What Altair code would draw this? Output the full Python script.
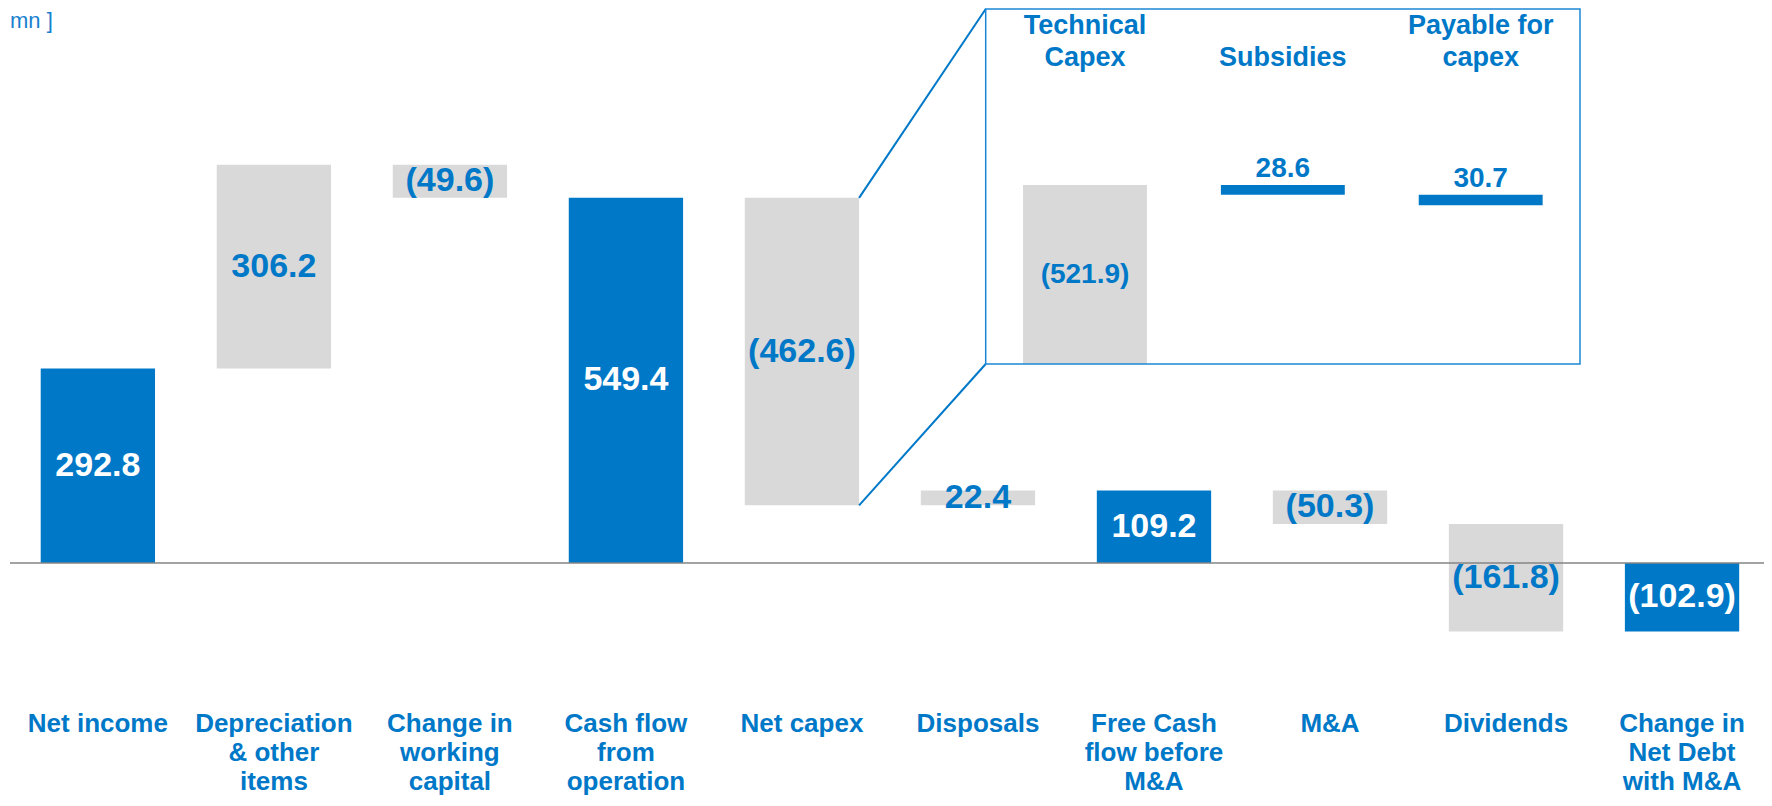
import altair as alt
import pandas as pd

# ---------------- data ----------------
categories = [
    "Net income",
    "Depreciation\n& other\nitems",
    "Change in\nworking\ncapital",
    "Cash flow\nfrom\noperation",
    "Net capex",
    "Disposals",
    "Free Cash\nflow before\nM&A",
    "M&A",
    "Dividends",
    "Change in\nNet Debt\nwith M&A",
]
values = [292.8, 306.2, -49.6, 549.4, -462.6, 22.4, 109.2, -50.3, -161.8, -102.9]
kinds = ["total", "delta", "delta", "total", "delta", "delta", "total", "delta", "delta", "total"]

inset_categories = ["Technical\nCapex", "Subsidies", "Payable for\ncapex"]
inset_values = [-521.9, 28.6, 30.7]
inset_kinds = ["gross", "offset", "offset"]

unit_text = "mn ]"


def fmt(v):
    return f"({abs(v):.1f})" if v < 0 else f"{v:.1f}"


rows = []
running = 0.0
for c, v, k in zip(categories, values, kinds):
    if k == "total":
        s, e = 0.0, v
    else:
        s, e = running, running + v
    running = e
    rows.append(dict(cat=c, lo=min(s, e), hi=max(s, e), mid=(s + e) / 2, kind=k, label=fmt(v)))
main_df = pd.DataFrame(rows)

irows = []
level = 0.0
for i, (c, v, k) in enumerate(zip(inset_categories, inset_values, inset_kinds)):
    if i == 0:
        s, e = 0.0, -v
    else:
        s, e = level, level - v
    level = e
    irows.append(dict(cat=c, lo=min(s, e), hi=max(s, e), mid=(s + e) / 2, kind=k, label=fmt(v)))
inset_df = pd.DataFrame(irows)

# ---------------- style ----------------
BLUE = "#0078C8"
GRAY = "#D9D9D9"
LINE_GRAY = "#858585"
BOX_BLUE = "#1C86D6"
FONT = "Liberation Sans"
W, H = 1756, 790

BOX_X0, BOX_X1, BOX_Y0, BOX_Y1 = 977.7, 1572.0, 1.0, 356.0

main_x_scale = alt.Scale(paddingInner=0.3506, paddingOuter=0.1634, align=0.5687, round=False)
main_x_axis = alt.Axis(
    orient="bottom", title=None, labelAngle=0,
    labelExpr="split(datum.label, '\\n')",
    labelFont=FONT, labelFontSize=26, labelFontWeight="bold", labelColor=BLUE,
    labelLineHeight=29, labelBaseline="top", labelPadding=0,
    ticks=False, tickSize=0, domain=False, grid=False, offset=-88,
    labelLimit=0, labelOverlap=False, labelFlush=False,
)
main_y_scale = alt.Scale(domain=[-353.5, 835], nice=False, zero=False)


def xmain(**kw):
    return alt.X("cat:N", sort=categories, scale=main_x_scale, axis=main_x_axis, **kw)


def ymain(field):
    return alt.Y(field, scale=main_y_scale, axis=None)


base = alt.Chart(main_df)

bars = base.mark_bar().encode(
    x=xmain(),
    y=ymain("lo:Q"),
    y2="hi:Q",
    color=alt.Color("kind:N", scale=alt.Scale(domain=["total", "delta"], range=[BLUE, GRAY]), legend=None),
)

zero_rule = base.transform_filter(alt.datum.cat == categories[0]).mark_rule(
    color=LINE_GRAY, strokeWidth=1.5
).encode(
    y=alt.YDatum(0, scale=main_y_scale, axis=None, type="quantitative"),
    x=alt.value(2),
    x2=alt.value(W),
)

labels = base.transform_calculate(
    tcolor="datum.kind == 'total' ? '#FFFFFF' : '" + BLUE + "'"
).mark_text(font=FONT, fontSize=34, fontWeight="bold", baseline="middle").encode(
    x=xmain(),
    y=ymain("mid:Q"),
    text="label:N",
    color=alt.Color("tcolor:N", scale=None),
)

capex = base.transform_filter(alt.datum.cat == "Net capex")
conn_top = capex.mark_rule(color=BLUE, strokeWidth=2).encode(
    x=xmain(bandPosition=1), y=ymain("hi:Q"),
    x2=alt.value(BOX_X0), y2=alt.value(BOX_Y0),
)
conn_bot = capex.mark_rule(color=BLUE, strokeWidth=2).encode(
    x=xmain(bandPosition=1), y=ymain("lo:Q"),
    x2=alt.value(BOX_X0), y2=alt.value(BOX_Y1),
)

main = alt.layer(bars, zero_rule, labels, conn_top, conn_bot)

# ---------------- inset ----------------
inset_x_scale = alt.Scale(range=[BOX_X0, BOX_X1], paddingInner=0.3738, paddingOuter=0.1888, align=0.5, round=False)
inset_x_axis = alt.Axis(
    orient="top", title=None, labelAngle=0,
    labelExpr="length(split(datum.label, '\\n')) > 1 ? split(datum.label, '\\n') : [' ', datum.label]",
    labelFont=FONT, labelFontSize=27, labelFontWeight="bold", labelColor=BLUE,
    labelLineHeight=32, labelBaseline="bottom", labelPadding=0,
    ticks=False, tickSize=0, domain=False, grid=False, offset=-31,
    labelLimit=0, labelOverlap=False, labelFlush=False,
)
inset_y_scale = alt.Scale(domain=[0, 521.9], range=[BOX_Y1, 177], nice=False, zero=False)


def xin(**kw):
    return alt.X("cat:N", sort=inset_categories, scale=inset_x_scale, axis=inset_x_axis, **kw)


def yin(field):
    return alt.Y(field, scale=inset_y_scale, axis=None)


ibase = alt.Chart(inset_df)
ibars = ibase.mark_bar().encode(
    x=xin(), y=yin("lo:Q"), y2="hi:Q",
    color=alt.Color("kind:N", scale=alt.Scale(domain=["gross", "offset"], range=[GRAY, BLUE]), legend=None),
)
ilab_mid = ibase.transform_filter(alt.datum.kind == "gross").mark_text(
    font=FONT, fontSize=28, fontWeight="bold", baseline="middle", color=BLUE
).encode(x=xin(), y=yin("mid:Q"), text="label:N")
ilab_top = ibase.transform_filter(alt.datum.kind == "offset").mark_text(
    font=FONT, fontSize=28, fontWeight="bold", baseline="alphabetic", dy=-8, color=BLUE
).encode(x=xin(), y=yin("hi:Q"), text="label:N")

inset = alt.layer(ibars, ilab_mid, ilab_top)

# ---------------- decorations ----------------
dummy = alt.Data(values=[{"k": 1}])
box = alt.Chart(dummy).mark_rect(fillOpacity=0, stroke=BOX_BLUE, strokeWidth=1.5).encode(
    x=alt.value(BOX_X0), x2=alt.value(BOX_X1), y=alt.value(BOX_Y0), y2=alt.value(BOX_Y1)
)
unit = alt.Chart(dummy).mark_text(
    font=FONT, fontSize=22, align="left", baseline="top", color="#1A80D0"
).encode(x=alt.value(2), y=alt.value(3), text=alt.value(unit_text))

chart = alt.layer(main, inset, box, unit).resolve_scale(
    x="independent", y="independent", color="independent"
).properties(
    width=W, height=H, autosize=alt.AutoSizeParams(type="none"), padding=0,
    background="white",
).configure_view(stroke=None)

chart.save("out.html", embed_options={"renderer": "svg", "actions": False})
